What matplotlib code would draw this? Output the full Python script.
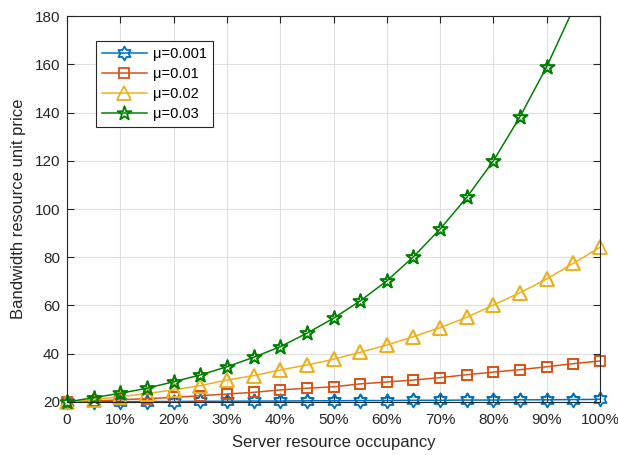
import matplotlib
matplotlib.use("Agg")
import numpy as np
import matplotlib.pyplot as plt
from matplotlib.ticker import FixedLocator
from matplotlib.path import Path

plt.rcParams['font.family'] = ['Liberation Sans', 'DejaVu Sans']

occupancy = [0, 5, 10, 15, 20, 25, 30, 35, 40, 45, 50, 55, 60, 65, 70, 75, 80, 85, 90, 95, 100]
labels = ['μ=0.001', 'μ=0.01', 'μ=0.02', 'μ=0.03']
price_mu0001 = [20.0, 20.1, 20.1, 20.2, 20.2, 20.3, 20.3, 20.4, 20.4, 20.5, 20.5,
                20.6, 20.6, 20.7, 20.7, 20.8, 20.8, 20.9, 20.9, 21.0, 21.1]
price_mu001 = [20.0, 20.4, 20.9, 21.4, 21.9, 22.6, 23.3, 24.0, 25.0, 25.7, 26.3,
               27.5, 28.3, 29.1, 30.1, 31.3, 32.4, 33.4, 34.6, 35.9, 37.0]
price_mu002 = [20.0, 21.0, 22.2, 23.5, 25.0, 26.8, 29.1, 30.9, 33.3, 35.3, 37.7,
               40.6, 43.6, 47.1, 50.8, 55.1, 60.2, 65.3, 71.0, 77.5, 84.1]
price_mu003 = [20.0, 21.8, 23.6, 25.7, 28.4, 31.2, 34.6, 38.5, 42.9, 48.5, 54.7,
               61.9, 70.2, 80.2, 91.7, 104.8, 120.0, 138.3, 159.0, 183.0, 212.0]
xtick_vals = [0, 10, 20, 30, 40, 50, 60, 70, 80, 90, 100]
xtick_labels = ['0', '10%', '20%', '30%', '40%', '50%', '60%', '70%', '80%', '90%', '100%']
ytick_vals = [20, 40, 60, 80, 100, 120, 140, 160, 180]
y_min, y_max = 20, 180


def star_path(n, inner):
    ang = np.pi / 2 + np.arange(2 * n) * np.pi / n
    r = np.where(np.arange(2 * n) % 2 == 0, 1.0, inner)
    verts = np.column_stack([r * np.cos(ang), r * np.sin(ang)])
    verts = np.vstack([verts, verts[:1]])
    codes = [Path.MOVETO] + [Path.LINETO] * (2 * n - 1) + [Path.CLOSEPOLY]
    return Path(verts, codes)


hexagram = star_path(6, 1 / np.sqrt(3))
pentagram = star_path(5, 0.382)

series = [price_mu0001, price_mu001, price_mu002, price_mu003]
colors = ['#0072BD', '#D95319', '#EDB120', '#008000']
markers = [hexagram, 's', '^', pentagram]
msizes = [10, 7.5, 10, 10.5]

fig = plt.figure(figsize=(6.18, 4.55), dpi=100)
ax = fig.add_axes([0.1084, 0.1165, 0.8625, 0.8483])

for ys, c, m, ms, lab in zip(series, colors, markers, msizes, labels):
    ax.plot(occupancy, ys, color=c, lw=1.1, marker=m, ms=ms, mfc='none',
            mec=c, mew=1.3, label=lab)
    xin = [x for x, y in zip(occupancy, ys) if y_min <= y <= y_max]
    yin = [y for y in ys if y_min <= y <= y_max]
    ax.plot(xin, yin, ls='none', marker=m, ms=ms, mfc='none', mec=c,
            mew=1.3, clip_on=False)

ax.set_xlim(0, 100)
ax.set_ylim(y_min, y_max)
ax.xaxis.set_major_locator(FixedLocator(xtick_vals))
ax.set_xticklabels(xtick_labels)
ax.set_yticks(ytick_vals)
ax.tick_params(direction='in', top=True, right=True, labelsize=11, length=5,
               width=0.8, color='#262626', labelcolor='#262626')
ax.tick_params(axis='x', pad=8)
ax.tick_params(axis='y', pad=5)
ax.grid(True, color='#e0e0e0', lw=0.8)
ax.set_axisbelow(True)
for s in ax.spines.values():
    s.set_color('#262626')
    s.set_linewidth(0.8)

ax.set_xlabel('Server resource occupancy', fontsize=12, color='#262626', labelpad=6)
ax.set_ylabel('Bandwidth resource unit price', fontsize=12, color='#262626', labelpad=6)

leg = ax.legend(loc='upper left', bbox_to_anchor=(0.0544, 0.935), borderaxespad=0,
                fontsize=10.5, fancybox=False, edgecolor='#262626', framealpha=1,
                handlelength=3.1, borderpad=0.4, labelspacing=0.42,
                handletextpad=0.4)
leg.get_frame().set_linewidth(0.8)

fig.savefig('out.png', dpi=100)
